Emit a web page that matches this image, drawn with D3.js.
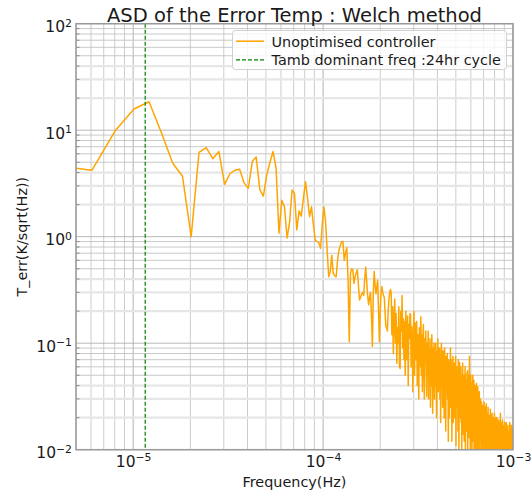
<!DOCTYPE html>
<html>
<head>
<meta charset="utf-8">
<script src="https://cdn.jsdelivr.net/npm/d3@7"></script>
<style>
    body { margin: 0; background: #ffffff; }
    svg text { font-family: "DejaVu Sans", sans-serif; fill: #1a1a1a; }
</style>
</head>
<body>
<svg id="chart" width="532" height="492"></svg>
<script>
// welch bins: f = k * DF, first drawn bin is k = 2
const DF = 2.02e-6
const FIRST_BIN = 2

// ASD of the error temperature, one value per bin (K/sqrt(Hz))
const asdValues = [
    4.6, 4.2, 10.0, 15.8, 18.5, 9.3, 4.9, 3.7, 1.0, 6.2,
    6.85, 5.4, 6.3, 3.1, 3.9, 4.2, 4.3, 3.2, 2.85, 5.1,
    5.6, 2.75, 2.4, 3.8, 5.0, 6.3, 4.4, 1.08, 2.2, 1.9,
    0.97, 1.38, 2.74, 2.56, 1.16, 1.75, 1.56, 2.3, 3.28, 2.3,
    1.54, 1.91, 1.3, 0.93, 0.9, 0.88, 0.78, 1.3, 1.91, 1.4,
    0.75, 0.42, 0.47, 0.67, 0.45, 0.43, 0.42, 0.6, 0.75, 0.82,
    0.9, 0.9, 0.6, 0.7, 0.79, 0.4, 0.103, 0.45, 0.5, 0.49,
    0.365, 0.42, 0.46, 0.49, 0.35, 0.255, 0.27, 0.29, 0.3, 0.28,
    0.4, 0.52, 0.38, 0.28, 0.23, 0.27, 0.3, 0.18, 0.093, 0.3,
    0.47, 0.35, 0.29, 0.34, 0.39, 0.2, 0.103, 0.2, 0.3, 0.34,
    0.3, 0.28, 0.27, 0.19, 0.143, 0.14, 0.13, 0.2, 0.26, 0.3,
    0.32,
    0.3, 0.12, 0.22, 0.08, 0.17, 0.26, 0.1, 0.19, 0.065, 0.14,
    0.1, 0.22, 0.06, 0.058, 0.2, 0.13, 0.28, 0.09, 0.17, 0.07,
    0.16, 0.05, 0.2, 0.105, 0.07, 0.18, 0.04, 0.15, 0.11, 0.19,
    0.184, 0.06, 0.143, 0.09, 0.035, 0.13, 0.2, 0.05, 0.12, 0.155,
    0.07, 0.16, 0.04, 0.12, 0.09, 0.03, 0.14, 0.06, 0.1, 0.177,
    0.05, 0.12, 0.035, 0.1, 0.15, 0.06, 0.03, 0.11, 0.07, 0.13,
    0.06, 0.0315, 0.1, 0.05, 0.13, 0.03, 0.09, 0.045, 0.11, 0.025,
    0.085, 0.04, 0.12, 0.06, 0.022, 0.09, 0.05, 0.1, 0.03, 0.075,
    0.04, 0.1, 0.05, 0.02, 0.085, 0.06, 0.11, 0.035, 0.07, 0.045,
    0.09, 0.03, 0.065, 0.018, 0.08, 0.1, 0.04, 0.06, 0.025, 0.085,
    0.05, 0.07, 0.02, 0.09, 0.04, 0.065, 0.015, 0.075, 0.035, 0.06,
    0.08, 0.03, 0.055, 0.012, 0.07, 0.039, 0.02, 0.065, 0.045, 0.09,
    0.025, 0.07, 0.04, 0.012, 0.06, 0.03, 0.075, 0.018, 0.05, 0.035,
    0.065, 0.02, 0.05, 0.03, 0.075, 0.011, 0.045, 0.06, 0.025, 0.04,
    0.055, 0.015, 0.07, 0.035, 0.01, 0.05, 0.066, 0.02, 0.045, 0.028,
    0.06, 0.018, 0.045, 0.009, 0.05, 0.03, 0.065, 0.014, 0.04, 0.025,
    0.05, 0.012, 0.04, 0.025, 0.06, 0.008, 0.052, 0.02, 0.035, 0.015,
    0.045, 0.022, 0.055, 0.01, 0.038, 0.028, 0.05, 0.013, 0.032, 0.075,
    0.02, 0.045, 0.009, 0.035, 0.05, 0.015, 0.04, 0.025, 0.008, 0.042,
    0.028, 0.05, 0.012, 0.035, 0.02, 0.045, 0.007, 0.03, 0.018, 0.04,
    0.022, 0.038, 0.009, 0.03, 0.015, 0.042, 0.02, 0.006, 0.033, 0.025,
    0.039, 0.012, 0.028, 0.008, 0.032, 0.018, 0.035, 0.01, 0.024, 0.03,
    0.0123, 0.03, 0.016, 0.026, 0.007, 0.028, 0.014, 0.022, 0.009, 0.025,
    0.026, 0.011, 0.02, 0.006, 0.024, 0.015, 0.028, 0.008, 0.018, 0.022,
    0.012, 0.025, 0.009, 0.02, 0.015, 0.027, 0.007, 0.018, 0.011, 0.0143,
    0.022, 0.008, 0.017, 0.025, 0.01, 0.019, 0.006, 0.021, 0.013, 0.017,
    0.009, 0.02, 0.012, 0.024, 0.007, 0.016, 0.011, 0.021, 0.005, 0.018,
    0.014, 0.022, 0.008, 0.017, 0.011, 0.02, 0.006, 0.015, 0.019, 0.009,
    0.018, 0.01, 0.022, 0.007, 0.014, 0.019, 0.008, 0.016, 0.012, 0.02,
    0.009, 0.017, 0.006, 0.015, 0.011, 0.02, 0.007, 0.014, 0.018, 0.009,
    0.016, 0.008, 0.013, 0.019, 0.006, 0.015, 0.0115, 0.018, 0.008, 0.013,
    0.017, 0.009, 0.022, 0.007, 0.012, 0.016, 0.005, 0.014, 0.01, 0.018,
    0.008, 0.015, 0.011, 0.019, 0.006, 0.013, 0.017, 0.008, 0.012, 0.009,
    0.016, 0.007, 0.014, 0.01, 0.018, 0.006, 0.013, 0.016, 0.009, 0.012,
    0.007, 0.015, 0.011, 0.018, 0.008, 0.013, 0.005, 0.014, 0.01, 0.016,
    0.009, 0.013, 0.017, 0.007, 0.012, 0.015, 0.006, 0.014, 0.01, 0.012,
    0.015, 0.008, 0.013, 0.018, 0.007, 0.012, 0.009, 0.016, 0.006, 0.011,
    0.014, 0.008, 0.017, 0.01, 0.013, 0.006, 0.015, 0.011, 0.009, 0.016,
    0.008, 0.014, 0.011
]

const xDomain = [5e-6, 1e-3],
    yDomain = [1e-2, 1e2],
    xMajorTicks = [1e-5, 1e-4, 1e-3],
    yMajorTicks = [1e-2, 1e-1, 1e0, 1e1, 1e2],
    dayFrequency = 1.157e-5   // 1 / 24hr
const legendLabels = ["Unoptimised controller", "Tamb dominant freq :24hr cycle"]
const legendColors = ["orange", "green"]

const MARGIN = {left: 76, right: 19, top: 23.7, bottom: 42.3},
    WIDTH = 532 - MARGIN.left - MARGIN.right,
    HEIGHT = 492 - MARGIN.top - MARGIN.bottom

let svg = d3.select("#chart"),
    xScale = d3.scaleLog().domain(xDomain).range([0, WIDTH]),
    yScale = d3.scaleLog().domain(yDomain).range([HEIGHT, 0]),
    points = asdValues.map((value, i) => ({freq: (i + FIRST_BIN) * DF, value: value})),
    mantissa = v => Math.round(v / Math.pow(10, Math.floor(Math.log10(v) + 1e-9))),
    plot = svg.append("g").attr("transform", `translate(${MARGIN.left}, ${MARGIN.top})`)

svg.append("defs").append("clipPath")
    .attr("id", "plot-clip")
    .append("rect")
    .attr("width", WIDTH)
    .attr("height", HEIGHT)

// vertical grid, major + minor
plot.append("g")
    .selectAll("line")
    .data(xScale.ticks())
    .join("line")
    .attr("x1", d => xScale(d))
    .attr("x2", d => xScale(d))
    .attr("y1", 0)
    .attr("y2", HEIGHT)
    .attr("stroke", d => mantissa(d) === 1 ? "#b4b4b4" : "#cdcdcd")
    .attr("stroke-width", 1)

// horizontal grid: 2,3,4 lines are the wide pale ones
plot.append("g")
    .selectAll("line")
    .data(yScale.ticks())
    .join("line")
    .attr("x1", 0)
    .attr("x2", WIDTH)
    .attr("y1", d => yScale(d))
    .attr("y2", d => yScale(d))
    .attr("stroke", d => [2, 3, 4].includes(mantissa(d)) ? "#e6e6e6" : (mantissa(d) === 1 ? "#b0b0b0" : "#c2c2c2"))
    .attr("stroke-width", d => [2, 3, 4].includes(mantissa(d)) ? 2.2 : 0.9)

// minor ticks on the left spine
plot.append("g")
    .selectAll("line")
    .data(yScale.ticks().filter(d => mantissa(d) !== 1))
    .join("line")
    .attr("x1", 0)
    .attr("x2", 3.5)
    .attr("y1", d => yScale(d))
    .attr("y2", d => yScale(d))
    .attr("stroke", "#8a8a8a")
    .attr("stroke-width", 1)

let line = d3.line()
    .x(d => xScale(d.freq))
    .y(d => yScale(d.value))

plot.append("path")
    .datum(points)
    .attr("clip-path", "url(#plot-clip)")
    .attr("fill", "none")
    .attr("stroke", "orange")
    .attr("stroke-width", 1.5)
    .attr("stroke-linejoin", "round")
    .attr("d", line)

plot.append("line")
    .attr("x1", xScale(dayFrequency))
    .attr("x2", xScale(dayFrequency))
    .attr("y1", 0)
    .attr("y2", HEIGHT)
    .attr("stroke", "green")
    .attr("stroke-width", 1.2)
    .attr("stroke-dasharray", "4,2")

// spines
plot.append("rect")
    .attr("width", WIDTH)
    .attr("height", HEIGHT)
    .attr("fill", "none")
    .attr("stroke", "#9a9a9a")
    .attr("stroke-width", 1.5)

function powerLabel(selection) {
    selection.each(function(d) {
        let text = d3.select(this).text(null),
            exponent = Math.round(Math.log10(d))

        text.append("tspan").text("10")
        text.append("tspan")
            .attr("dy", "-0.5em")
            .attr("font-size", "0.7em")
            .text(String(exponent).replace("-", "\u2212"))
    })
}

let xAxis = plot.append("g")
    .attr("transform", `translate(0, ${HEIGHT})`)
    .call(d3.axisBottom(xScale).tickValues(xMajorTicks).tickSize(0).tickPadding(0))
xAxis.select(".domain").remove()
xAxis.selectAll(".tick text")
    .attr("y", 17)
    .attr("dy", null)
    .style("font-size", "15.5px")
    .style("font-family", "DejaVu Sans")
    .call(powerLabel)

let yAxis = plot.append("g")
    .call(d3.axisLeft(yScale).tickValues(yMajorTicks).tickSize(0).tickPadding(0))
yAxis.select(".domain").remove()
yAxis.selectAll(".tick text")
    .attr("x", -4)
    .attr("dy", null)
    .attr("y", 8)
    .style("font-size", "15.5px")
    .style("font-family", "DejaVu Sans")
    .call(powerLabel)

svg.append("text")
    .attr("x", MARGIN.left + WIDTH / 2)
    .attr("y", 21.5)
    .attr("text-anchor", "middle")
    .style("font-size", "19.5px")
    .text("ASD of the Error Temp : Welch method")

svg.append("text")
    .attr("x", MARGIN.left + WIDTH / 2)
    .attr("y", 486.5)
    .attr("text-anchor", "middle")
    .style("font-size", "14.4px")
    .text("Frequency(Hz)")

svg.append("text")
    .attr("transform", `translate(27, ${MARGIN.top + HEIGHT / 2}) rotate(-90)`)
    .attr("text-anchor", "middle")
    .style("font-size", "14.4px")
    .text("T_err(K/sqrt(Hz))")

// legend
let legend = svg.append("g")

legend.append("rect")
    .attr("x", 232.5)
    .attr("y", 30.5)
    .attr("width", 274)
    .attr("height", 39)
    .attr("rx", 3)
    .attr("fill", "#ffffff")
    .attr("fill-opacity", 0.8)
    .attr("stroke", "#d0d0d0")

legendLabels.forEach((label, i) => {
    let rowY = 41.2 + i * 18.6

    legend.append("line")
        .attr("x1", 236)
        .attr("x2", 264)
        .attr("y1", rowY)
        .attr("y2", rowY)
        .attr("stroke", legendColors[i])
        .attr("stroke-width", i === 0 ? 1.5 : 1.2)
        .attr("stroke-dasharray", i === 0 ? null : "4,2")

    legend.append("text")
        .attr("x", 271.5)
        .attr("y", rowY + 5.3)
        .style("font-size", "14.4px")
        .text(label)
})
</script>
</body>
</html>
